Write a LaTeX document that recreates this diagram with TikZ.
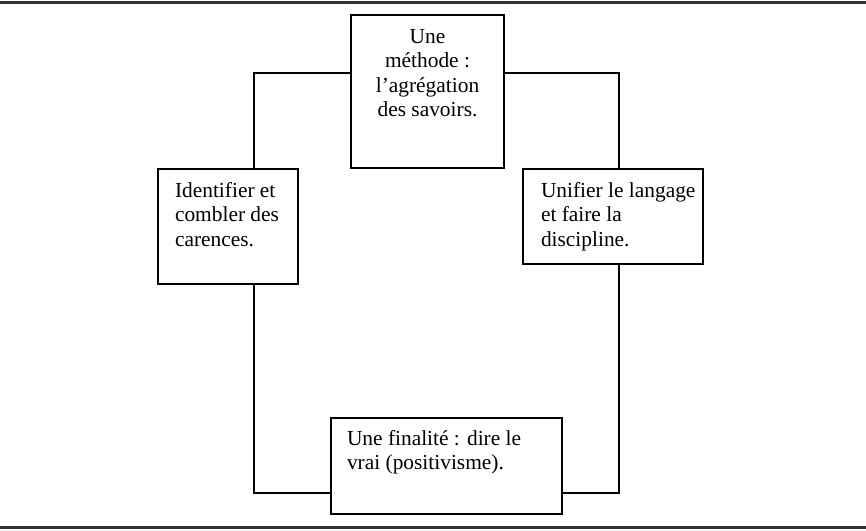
\documentclass[tikz,border=0pt]{standalone}
\usepackage{fontspec}
\setmainfont{Liberation Serif}
\newcommand{\bxc}[4]{\parbox[c][#2][t]{#1}{\vspace*{#3}\centering\strut#4\par}}
\newcommand{\bxl}[5]{\parbox[c][#2][t]{#1}{\vspace*{#3}\raggedright\leftskip=#4\relax\strut#5\par}}
\tikzset{
  box/.style={draw=black, line width=1.4pt, inner sep=0pt, outer sep=0pt, anchor=north west,
    font=\fontsize{21.4}{24.6}\selectfont},
  link/.style={draw=black, line width=1.4pt},
  rule/.style={draw=black!80, line width=2.2pt}
}
\begin{document}
\begin{tikzpicture}[x=1pt,y=-1pt]
\useasboundingbox (0,0) rectangle (866,530);
\coordinate (rl) at (0,2.5);
\coordinate (rr) at (866,2.5);
\coordinate (bl) at (0,527.5);
\coordinate (br) at (866,527.5);
\draw[rule] (rl) -- (rr);
\draw[rule] (bl) -- (br);

\node[box] (top) at (351,15) {\bxc{153pt}{153pt}{10.8pt}{Une\\méthode :\\l’agrégation\\des savoirs.}};
\node[box] (left) at (158,169) {\bxl{140pt}{115pt}{10.8pt}{17pt}{Identifier et\\combler des\\carences.}};
\node[box] (right) at (523,169) {\bxl{180pt}{95pt}{10.8pt}{18pt}{Unifier le langage\\et faire la\\discipline.}};
\node[box] (bottom) at (331,418) {\bxl{231pt}{96pt}{9.8pt}{16pt}{Une finalité : dire le\\vrai (positivisme).}};

\coordinate (c1) at (254,73);
\coordinate (c2) at (619,73);
\coordinate (c3) at (254,493);
\coordinate (c4) at (619,493);
\draw[link] (top.west |- c1) -| (left.north -| c1);
\draw[link] (top.east |- c2) -| (right.north -| c2);
\draw[link] (left.south -| c3) |- (bottom.west |- c3);
\draw[link] (right.south -| c4) |- (bottom.east |- c4);
\end{tikzpicture}
\end{document}
